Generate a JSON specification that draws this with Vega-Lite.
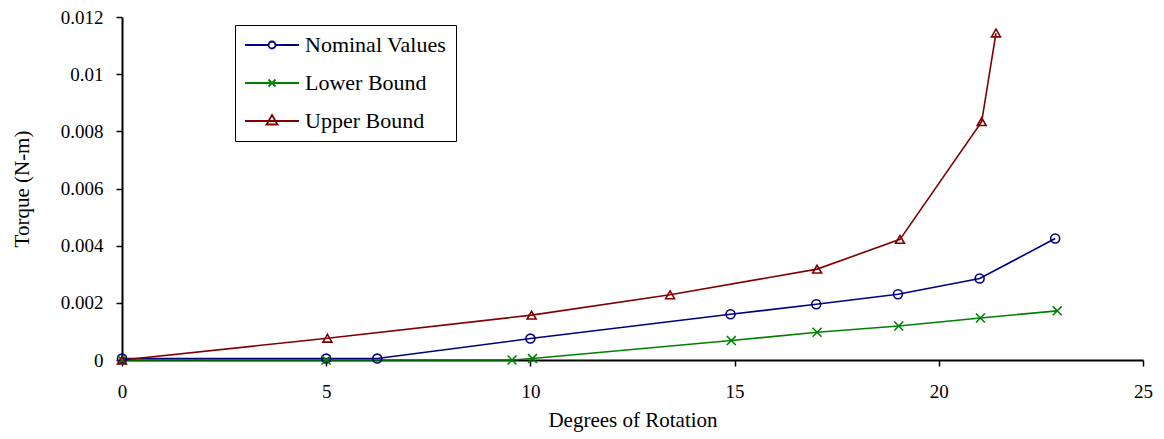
{
  "$schema": "https://vega.github.io/schema/vega-lite/v6.json",
  "width": 1021,
  "height": 343,
  "autosize": {"type": "none"},
  "padding": {"left": 122, "top": 17, "right": 21, "bottom": 79},
  "background": "white",
  "config": {
    "view": {"stroke": null},
    "font": "Liberation Serif",
    "axis": {"grid": false, "domainColor": "black", "domainWidth": 2, "tickColor": "black", "tickWidth": 1.5, "tickSize": 6, "labelFont": "Liberation Serif", "labelFontSize": 19, "labelColor": "black", "labelFlush": false, "titleFont": "Liberation Serif", "titleFontSize": 21, "titleFontWeight": "normal", "titleColor": "black"}
  },
  "data": {
    "values": [
      {"series": "Nominal Values", "x": 0, "y": 0.00005},
      {"series": "Nominal Values", "x": 5, "y": 0.00005},
      {"series": "Nominal Values", "x": 6.25, "y": 0.00005},
      {"series": "Nominal Values", "x": 10, "y": 0.00075},
      {"series": "Nominal Values", "x": 14.9, "y": 0.0016},
      {"series": "Nominal Values", "x": 17, "y": 0.00195},
      {"series": "Nominal Values", "x": 19, "y": 0.0023},
      {"series": "Nominal Values", "x": 21, "y": 0.00285},
      {"series": "Nominal Values", "x": 22.85, "y": 0.00425},
      {"series": "Lower Bound", "x": 0, "y": 0},
      {"series": "Lower Bound", "x": 5, "y": 0},
      {"series": "Lower Bound", "x": 9.55, "y": 0},
      {"series": "Lower Bound", "x": 10.05, "y": 0.00005},
      {"series": "Lower Bound", "x": 14.92, "y": 0.00068},
      {"series": "Lower Bound", "x": 17.02, "y": 0.00097},
      {"series": "Lower Bound", "x": 19.02, "y": 0.00119},
      {"series": "Lower Bound", "x": 21.02, "y": 0.00147},
      {"series": "Lower Bound", "x": 22.9, "y": 0.00172},
      {"series": "Upper Bound", "x": 0, "y": 0},
      {"series": "Upper Bound", "x": 5.03, "y": 0.00076},
      {"series": "Upper Bound", "x": 10.03, "y": 0.00157},
      {"series": "Upper Bound", "x": 13.42, "y": 0.00228},
      {"series": "Upper Bound", "x": 17.02, "y": 0.00318},
      {"series": "Upper Bound", "x": 19.05, "y": 0.00422},
      {"series": "Upper Bound", "x": 21.05, "y": 0.00834},
      {"series": "Upper Bound", "x": 21.4, "y": 0.01144}
    ]
  },
  "encoding": {
    "x": {"field": "x", "type": "quantitative", "title": "Degrees of Rotation", "scale": {"domain": [0, 25], "nice": false, "zero": false}, "axis": {"values": [0, 5, 10, 15, 20, 25], "labelPadding": 16, "titlePadding": 8}},
    "y": {"field": "y", "type": "quantitative", "title": "Torque (N-m)", "scale": {"domain": [0, 0.012], "nice": false}, "axis": {"values": [0, 0.002, 0.004, 0.006, 0.008, 0.01, 0.012], "format": "~g", "labelPadding": 13, "titlePadding": 28}},
    "color": {"field": "series", "type": "nominal", "scale": {"domain": ["Nominal Values", "Lower Bound", "Upper Bound"], "range": ["#000080", "#008000", "#800000"]}, "legend": null}
  },
  "layer": [
    {
      "mark": {"type": "line", "strokeWidth": 1.6, "clip": false},
      "encoding": {}
    },
    {
      "mark": {"type": "point", "filled": false, "strokeWidth": 1.6, "size": 80, "opacity": 1},
      "encoding": {
        "shape": {"field": "series", "type": "nominal", "scale": {"domain": ["Nominal Values", "Lower Bound", "Upper Bound"], "range": ["circle", "M-1,-1L1,1M-1,1L1,-1", "triangle-up"]}, "legend": null}
      }
    },
    {
      "transform": [{"filter": "datum.x < 0"}],
      "mark": {"type": "point", "filled": false, "strokeWidth": 1.6, "opacity": 1},
      "encoding": {
        "color": {"field": "series", "type": "nominal", "scale": {"domain": ["Nominal Values", "Lower Bound", "Upper Bound"], "range": ["#000080", "#008000", "#800000"]}, "legend": {"title": null, "orient": "none", "legendX": 113, "legendY": 8, "strokeColor": "black", "padding": 9, "symbolSize": 400, "symbolStrokeWidth": 1.8, "symbolOpacity": 1, "symbolFillColor": "transparent", "labelOffset": 39, "rowPadding": 16, "labelFontSize": 22, "labelFont": "Liberation Serif", "labelColor": "black", "labelLimit": 300}},
        "shape": {"field": "series", "type": "nominal", "scale": {"domain": ["Nominal Values", "Lower Bound", "Upper Bound"], "range": ["M-1,0H1.35M2.05,0H4.4M2.05,0A0.35,0.35 0 1,1 1.35,0A0.35,0.35 0 1,1 2.05,0", "M-1,0H4.4M1.35,-0.35L2.05,0.35M1.35,0.35L2.05,-0.35", "M-1,0H4.4M1.7,-0.6L2.25,0.35L1.15,0.35Z"]}, "legend": {"title": null, "orient": "none", "legendX": 113, "legendY": 8, "strokeColor": "black", "padding": 9, "symbolSize": 400, "symbolStrokeWidth": 1.8, "symbolOpacity": 1, "symbolFillColor": "transparent", "labelOffset": 39, "rowPadding": 16, "labelFontSize": 22, "labelFont": "Liberation Serif", "labelColor": "black", "labelLimit": 300}}
      }
    }
  ],
  "resolve": {"scale": {"shape": "independent", "color": "independent"}}
}
